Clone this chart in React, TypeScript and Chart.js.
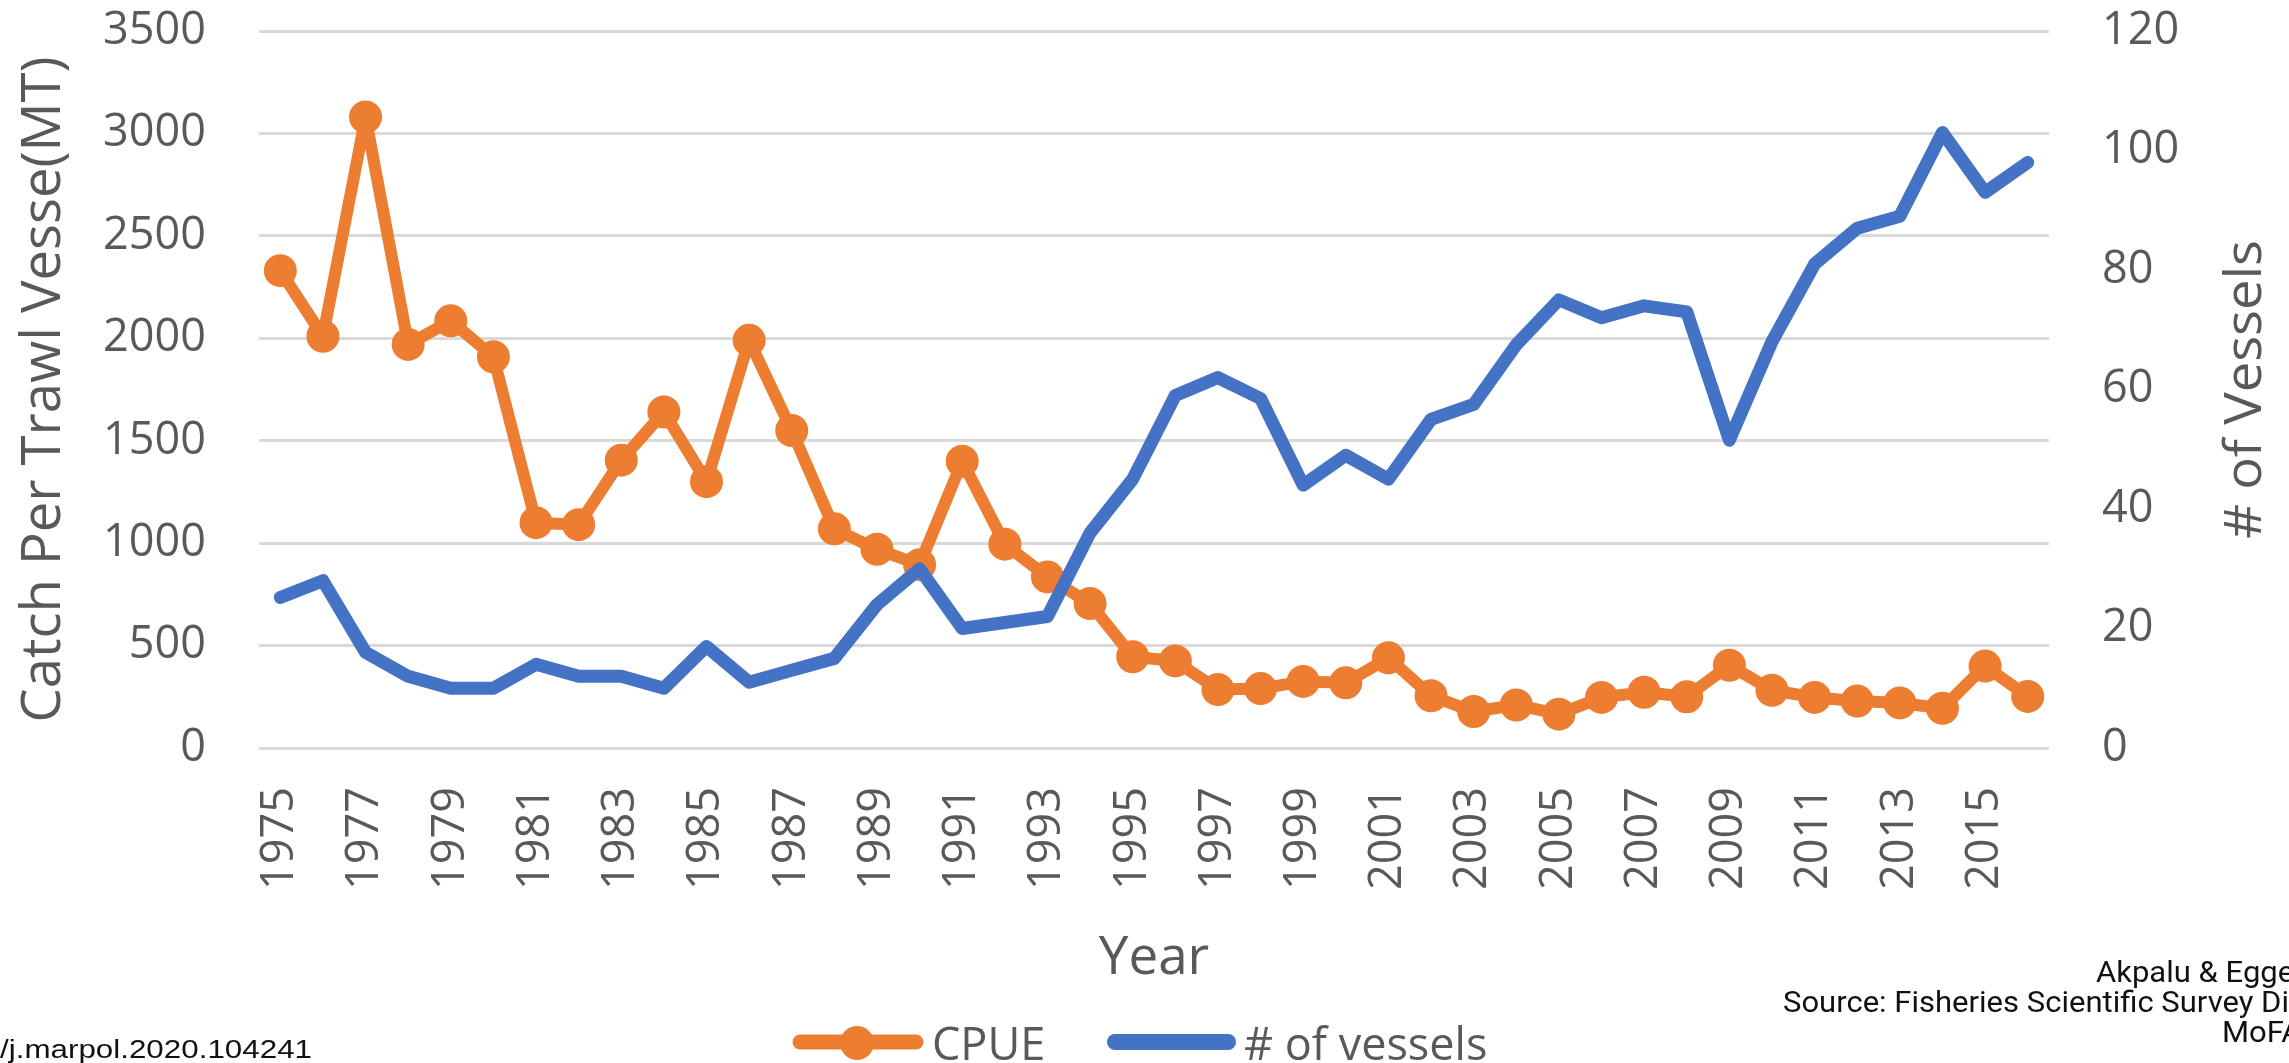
import React, { useEffect, useRef } from "react";
import { Chart, registerables } from "chart.js";

Chart.register(...registerables);

// ---------- data ----------
const years = [
  "1975", "1976", "1977", "1978", "1979", "1980", "1981", "1982", "1983", "1984",
  "1985", "1986", "1987", "1988", "1989", "1990", "1991", "1992", "1993", "1994",
  "1995", "1996", "1997", "1998", "1999", "2000", "2001", "2002", "2003", "2004",
  "2005", "2006", "2007", "2008", "2009", "2010", "2011", "2012", "2013", "2014",
  "2015", "2016",
];

const cpue = [
  2330, 2010, 3080, 1970, 2085, 1910, 1100, 1090, 1405, 1640,
  1300, 1990, 1550, 1070, 970, 895, 1400, 995, 835, 705,
  445, 425, 285, 290, 325, 318, 440, 255, 178, 210,
  165, 247, 272, 250, 404, 282, 247, 229, 220, 194,
  400, 252,
];

const vessels = [
  25.2, 28, 16, 12, 10, 10, 14, 12, 12, 10,
  17, 11, 13, 15, 24, 30, 20, 21, 22, 36,
  45, 59, 62, 58.5, 44, 49, 45, 55, 57.5, 67.5,
  75, 72, 74, 73, 51.5, 68, 81, 87, 89, 103,
  93, 98,
];

const seriesNames = ["CPUE", "# of vessels"];
const leftAxisTitle = "Catch Per Trawl Vesse(MT)";
const rightAxisTitle = "# of Vessels";
const xAxisTitle = "Year";
const sourceLines = ["Akpalu & Egge", "Source: Fisheries Scientific Survey Di", "MoFA"];
const doiText = "/j.marpol.2020.104241";

// ---------- styles ----------
const ORANGE = "#ED7D31";
const BLUE = "#4472C4";
const GRAY = "#595959";
const GRID = "#d9d9d9";
const FONT = "'Open Sans', 'DejaVu Sans', sans-serif";

function drawFit(
  ctx: CanvasRenderingContext2D,
  text: string,
  x: number,
  y: number,
  font: string,
  target: number | null,
  rot: number,
  align: CanvasTextAlign = "center"
) {
  ctx.save();
  ctx.font = font;
  ctx.textAlign = align;
  ctx.textBaseline = "alphabetic";
  ctx.translate(x, y);
  ctx.rotate(rot);
  if (target) {
    const w = ctx.measureText(text).width;
    ctx.scale(target / w, 1);
  }
  ctx.fillText(text, 0, 0);
  ctx.restore();
}

const extrasPlugin = {
  id: "extras",
  afterDraw(chart: any) {
    const ctx: CanvasRenderingContext2D = chart.ctx;
    const area = chart.chartArea;
    const midY = (area.top + area.bottom) / 2;
    const midX = (area.left + area.right) / 2;
    ctx.save();
    ctx.fillStyle = GRAY;
    // axis titles
    drawFit(ctx, leftAxisTitle, 60, midY, `54px ${FONT}`, 666, -Math.PI / 2);
    drawFit(ctx, rightAxisTitle, 2261, midY, `52px ${FONT}`, 299, -Math.PI / 2);
    drawFit(ctx, xAxisTitle, midX, 974, `53px ${FONT}`, null, 0);

    // legend
    const ly = 1042;
    ctx.lineCap = "round";
    ctx.strokeStyle = ORANGE;
    ctx.lineWidth = 15;
    ctx.beginPath();
    ctx.moveTo(800, ly);
    ctx.lineTo(916, ly);
    ctx.stroke();
    ctx.fillStyle = ORANGE;
    ctx.beginPath();
    ctx.arc(857, ly + 1, 17, 0, Math.PI * 2);
    ctx.fill();
    ctx.strokeStyle = BLUE;
    ctx.lineWidth = 16;
    ctx.beginPath();
    ctx.moveTo(1115, ly);
    ctx.lineTo(1228, ly);
    ctx.stroke();
    ctx.fillStyle = GRAY;
    drawFit(ctx, seriesNames[0], 932, 1060, `45px ${FONT}`, null, 0, "left");
    drawFit(ctx, seriesNames[1], 1244, 1060, `45px ${FONT}`, null, 0, "left");

    // source / citation texts
    ctx.fillStyle = "#111111";
    const srcFont = `29px Roboto, 'Liberation Sans', sans-serif`;
    ctx.font = srcFont;
    const refW = ctx.measureText(sourceLines[1]).width;
    const s = 506 / refW;
    const xs = [2096, 1783, 2222];
    const bs = [982, 1012, 1042];
    sourceLines.forEach((t, i) => {
      ctx.save();
      ctx.font = srcFont;
      ctx.textAlign = "left";
      ctx.textBaseline = "alphabetic";
      ctx.translate(xs[i], bs[i]);
      ctx.scale(s, 1);
      ctx.fillText(t, 0, 0);
      ctx.restore();
    });
    drawFit(ctx, doiText, 0, 1058, `25px 'Liberation Sans', Arial, sans-serif`, 312, 0, "left");
    ctx.restore();
  },
};

export default function App() {
  const canvasRef = useRef<HTMLCanvasElement | null>(null);

  useEffect(() => {
    const canvas = canvasRef.current;
    if (!canvas) return;
    Chart.defaults.font.family = FONT;
    const chart = new Chart(canvas, {
      type: "line",
      data: {
        labels: years,
        datasets: [
          {
            label: seriesNames[0],
            data: cpue,
            yAxisID: "y",
            borderColor: ORANGE,
            backgroundColor: ORANGE,
            borderWidth: 12,
            pointRadius: 15,
            pointBorderWidth: 3,
            pointBackgroundColor: ORANGE,
            pointBorderColor: ORANGE,
            borderJoinStyle: "round",
            borderCapStyle: "round",
            tension: 0,
            order: 1,
          },
          {
            label: seriesNames[1],
            data: vessels,
            yAxisID: "y1",
            borderColor: BLUE,
            backgroundColor: BLUE,
            borderWidth: 13,
            pointRadius: 0,
            borderJoinStyle: "round",
            borderCapStyle: "round",
            tension: 0,
            order: 0,
          },
        ],
      },
      options: {
        responsive: false,
        maintainAspectRatio: false,
        devicePixelRatio: 1,
        animation: false,
        layout: { padding: { top: 31, left: 0, right: 0, bottom: 0 } },
        plugins: {
          legend: { display: false },
          tooltip: { enabled: false },
          title: { display: false },
        },
        scales: {
          x: {
            offset: true,
            grid: { display: false, drawTicks: false },
            border: { display: false },
            ticks: {
              autoSkip: false,
              minRotation: 90,
              maxRotation: 90,
              padding: 39,
              color: GRAY,
              font: { size: 45, family: FONT },
              callback: (_v: any, i: number) => (i % 2 === 0 ? years[i] : ""),
            },
            afterFit: (scale: any) => {
              scale.height = 1063 - 748;
            },
          },
          y: {
            position: "left",
            min: 0,
            max: 3500,
            grid: {
              color: GRID,
              lineWidth: 3,
              drawTicks: true,
              tickLength: 53,
              tickColor: "rgba(0,0,0,0)",
            },
            border: { display: false },
            ticks: {
              stepSize: 500,
              padding: 0,
              color: GRAY,
              font: { size: 45, family: FONT },
              callback: (v: any) => String(v),
            },
            afterFit: (scale: any) => {
              scale.width = 259;
            },
          },
          y1: {
            position: "right",
            min: 0,
            max: 120,
            grid: {
              drawOnChartArea: false,
              drawTicks: true,
              tickLength: 53,
              tickColor: "rgba(0,0,0,0)",
            },
            border: { display: false },
            ticks: {
              stepSize: 20,
              padding: 0,
              color: GRAY,
              font: { size: 45, family: FONT },
              callback: (v: any) => String(v),
            },
            afterFit: (scale: any) => {
              scale.width = 2289 - 2049;
            },
          },
        },
      },
      plugins: [extrasPlugin],
    });
    return () => chart.destroy();
  }, []);

  return (
    <div
      style={{
        position: "fixed",
        left: 0,
        top: 0,
        width: 2289,
        height: 1063,
        overflow: "hidden",
        background: "#ffffff",
      }}
    >
      <canvas ref={canvasRef} width={2289} height={1063} style={{ display: "block" }} />
    </div>
  );
}
